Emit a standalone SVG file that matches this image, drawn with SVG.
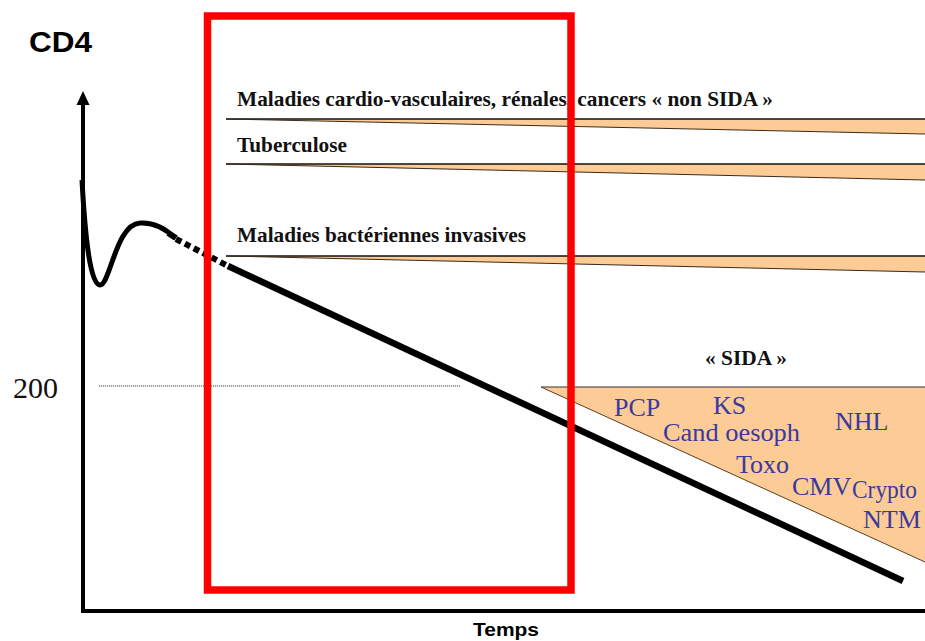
<svg xmlns="http://www.w3.org/2000/svg" width="925" height="641" viewBox="0 0 925 641">
<style>
.wedge{fill:#FCCB96;stroke:none}
.wtop{stroke:#111;stroke-width:1.6;fill:none}
.wdiag{stroke:#3a2a1a;stroke-width:1;fill:none}
.lbl{font-family:"Liberation Serif","Times New Roman",serif;font-weight:bold;font-size:21px;fill:#111}
.oi{font-family:"Liberation Serif","Times New Roman",serif;font-size:26px;fill:#3A3A9E}
.axl{font-family:"Liberation Sans",Arial,sans-serif;font-weight:bold;fill:#000}
</style>
<rect width="925" height="641" fill="#fff"/>

<g id="axes">
<line x1="83" y1="104" x2="83" y2="611" stroke="#000" stroke-width="4"/>
<path d="M83,91 L89.5,105 L76.5,105 Z" fill="#000"/>
<line x1="81" y1="611" x2="925" y2="611" stroke="#000" stroke-width="4"/>
<text class="axl" x="29" y="52" font-size="29" textLength="63" lengthAdjust="spacingAndGlyphs">CD4</text>
<text class="axl" x="473" y="636" font-size="19" textLength="66" lengthAdjust="spacingAndGlyphs">Temps</text>
<text x="13" y="398" font-family="Liberation Serif,'Times New Roman',serif" font-size="30" fill="#111">200</text>
<line x1="99" y1="386" x2="460" y2="386" stroke="#444" stroke-width="1" stroke-dasharray="1.2,0.8"/>
</g>

<g id="wedge-nonsida">
<polygon class="wedge" points="226,119 925,119 925,134"/>
<line class="wtop" x1="226" y1="119" x2="925" y2="119"/>
<line class="wdiag" x1="226" y1="119" x2="925" y2="134"/>
<text class="lbl" x="237" y="106" textLength="536" lengthAdjust="spacingAndGlyphs">Maladies cardio-vasculaires, rénales, cancers « non SIDA »</text>
</g>

<g id="wedge-tb">
<polygon class="wedge" points="226,164 925,164 925,180"/>
<line class="wtop" x1="226" y1="164" x2="925" y2="164"/>
<line class="wdiag" x1="226" y1="164" x2="925" y2="180"/>
<text class="lbl" x="237" y="152" textLength="110" lengthAdjust="spacingAndGlyphs">Tuberculose</text>
</g>

<g id="wedge-bact">
<polygon class="wedge" points="226,256 925,256 925,272"/>
<line class="wtop" x1="226" y1="256" x2="925" y2="256"/>
<line class="wdiag" x1="226" y1="256" x2="925" y2="272"/>
<text class="lbl" x="237" y="242" textLength="289" lengthAdjust="spacingAndGlyphs">Maladies bactériennes invasives</text>
</g>

<g id="sida">
<polygon class="wedge" points="541,387 925,387 925,562"/>
<line x1="541" y1="387" x2="925" y2="387" stroke="#333" stroke-width="1.2"/>
<line x1="541" y1="387" x2="925" y2="562" stroke="#5a4020" stroke-width="1"/>
<text class="lbl" x="705" y="365" font-size="19" textLength="82" lengthAdjust="spacingAndGlyphs">« SIDA »</text>
<text class="oi" x="614" y="416">PCP</text>
<text class="oi" x="713" y="414">KS</text>
<text class="oi" x="663" y="441" textLength="137" lengthAdjust="spacingAndGlyphs">Cand oesoph</text>
<text class="oi" x="835" y="430">NHL</text>
<text class="oi" x="736" y="473">Toxo</text>
<text class="oi" x="792" y="495">CMV</text>
<text class="oi" x="852" y="498" font-size="23" textLength="65" lengthAdjust="spacingAndGlyphs">Crypto</text>
<text class="oi" x="863" y="528">NTM</text>
</g>

<g id="cd4-curve" fill="none" stroke="#000" stroke-linecap="butt">
<path d="M82,180 C85,235 90,285 100,285 C110,285 116,224 140,223 C155,222 166,229 175,238" stroke-width="5"/>
<path d="M168,233 L176,238" stroke-width="6"/>
<path d="M176,239 L228,266" stroke-width="6" stroke-dasharray="6,4"/>
<path d="M228,266 L903,581" stroke-width="6.5"/>
</g>

<g id="focus-box">
<rect x="207.5" y="16" width="363.5" height="574" fill="none" stroke="#FF0000" stroke-width="7.5"/>
</g>
</svg>
